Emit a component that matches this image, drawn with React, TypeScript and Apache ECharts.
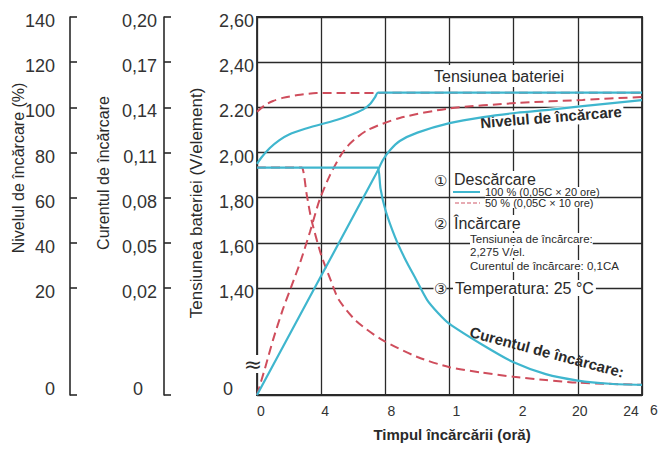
import React, { useEffect, useRef } from "react";
import * as echarts from "echarts";

// ---------- data (real units) ----------
const hourTicks = [0, 4, 8, 12, 16, 20, 24];
const hourLabels = ["0", "4", "8", "1", "2", "20", "24"];
const voltLabels = ["0", "1,40", "1,60", "1,80", "2,00", "2.20", "2,40", "2,60"];
const currentLabels = ["0", "0,02", "0,05", "0,08", "0,11", "0,14", "0,17", "0,20"];
const levelLabels = ["0", "20", "40", "60", "80", "100", "120", "140"];

// [hours, V/element]
const voltage100 = [[0, 1.95], [0.3, 1.98], [0.8, 2.02], [1.4, 2.055], [2.0, 2.08], [3.0, 2.105], [4.0, 2.125], [5.0, 2.145], [5.8, 2.165], [6.6, 2.19], [7.05, 2.215], [7.36, 2.245], [7.54, 2.265], [8.2, 2.265], [24, 2.265]];
const voltage50 = [[0, 2.18], [0.5, 2.21], [1.0, 2.228], [1.6, 2.242], [2.7, 2.256], [3.7, 2.263], [24, 2.265]];
// [hours, CA]
const current100 = [[0, 0.1], [7.3, 0.1], [7.54, 0.1], [7.7, 0.086], [8.0, 0.072], [8.6, 0.054], [9.2, 0.04], [9.9, 0.026], [10.6, 0.0178], [11.3, 0.0153], [12, 0.0133], [14.1, 0.0093], [16, 0.0061], [18, 0.0039], [20, 0.0027], [22, 0.0021], [24, 0.0019]];
const current50 = [[0, 0.1], [2.6, 0.1], [2.8, 0.1], [3.1, 0.082], [3.4, 0.065], [4.0, 0.042], [4.6, 0.025], [5.1, 0.0178], [6.2, 0.0138], [7.8, 0.0103], [10, 0.0071], [12, 0.0052], [14, 0.0042], [16, 0.0034], [18, 0.0028], [20, 0.0023], [24, 0.0019]];
// [hours, %]
const level100 = [[0, 0], [7.3, 68.9], [7.54, 72.2], [7.85, 76.7], [8.3, 81.1], [8.9, 85.1], [10, 88.8], [12, 93.0], [14.1, 95.7], [16.2, 97.6], [18.3, 99.0], [20.3, 100.5], [24, 103.2]];
const level50 = [[0, 0], [0.5, 5.0], [1.0, 10.3], [1.6, 15.9], [2.2, 21.8], [2.7, 31.5], [3.3, 44.8], [3.9, 59.0], [4.55, 70.0], [5.2, 78.5], [5.8, 84.0], [6.86, 89.8], [8.9, 95.3], [12, 99.5], [16.2, 101.9], [20.3, 103.3], [24, 104.6]];

// ---------- broken-axis scale ----------
const G = 107 / 45.17; // height of bottom band in grid units
const U_MAX = G + 6;
const tickU = [0, G, G + 1, G + 2, G + 3, G + 4, G + 5, G + 6];
const toU = (v: number, first: number, step: number) =>
  v <= first ? (v / first) * G : G + (v - first) / step;
const VOLT = [1.4, 0.2];
const CUR = [0.02, 0.03];
const LVL = [20, 20];
const conv = (pts: number[][], s: number[]) => pts.map(([h, v]) => [h, toU(v, s[0], s[1])]);

const FONT = "'Liberation Sans', Arial, Helvetica, sans-serif";
const INK = "#2a2a2a";
const BLUE = "#3fb6ce";
const RED = "#cf4d5c";

const xShift = [4, 4, 6, 7, 9, 2, -11];

function yAxisCfg(labels: string[], offset: number, margin: number, showLine: boolean, zeroPad: number, split: boolean) {
  return {
    type: "value",
    min: 0,
    max: U_MAX,
    position: "left",
    offset,
    axisLine: { show: showLine, lineStyle: { color: INK, width: 1.6 } },
    axisTick: { show: showLine, inside: true, length: 7, customValues: tickU, lineStyle: { color: INK, width: 1.6 } },
    axisLabel: {
      customValues: tickU,
      margin,
      formatter: (v: number) => {
        const i = tickU.findIndex((t) => Math.abs(t - v) < 1e-6);
        if (i < 0) return "";
        return i === 0 ? `{z|${labels[0]}}` : `{n|${labels[i]}}`;
      },
      rich: {
        n: { fontSize: 18, fontFamily: FONT, color: "#333", padding: [8, 0, 0, 0] },
        z: { fontSize: 18, fontFamily: FONT, color: "#333", padding: [0, zeroPad, 12, 0] },
      },
    },
    splitLine: { show: split, lineStyle: { color: INK, width: 1.3 } },
  };
}

function txt(text: string, x: number, y: number, size: number, extra: any = {}, styleExtra: any = {}) {
  return {
    type: "text",
    x,
    y,
    z: 1,
    ...extra,
    style: {
      text,
      fontSize: size,
      fontFamily: FONT,
      fill: INK,
      align: "left",
      verticalAlign: "middle",
      ...styleExtra,
    },
  };
}

const lineSeries = (data: number[][], yIdx: number, color: string, dashed: boolean) => ({
  type: "line",
  yAxisIndex: yIdx,
  data,
  showSymbol: false,
  symbol: "none",
  smooth: 0.25,
  silent: true,
  z: 3,
  lineStyle: { color, width: dashed ? 2 : 2.2, type: dashed ? [9, 5] : "solid" },
});

export default function App() {
  const ref = useRef<HTMLDivElement>(null);
  useEffect(() => {
    const chart = echarts.init(ref.current!, undefined, { renderer: "svg" });
    const rich: any = {};
    xShift.forEach((s, i) => {
      rich["s" + i] = {
        fontSize: 14,
        fontFamily: FONT,
        color: "#333",
        padding: s >= 0 ? [0, 0, 0, 2 * s] : [0, -2 * s, 0, 0],
      };
    });
    const option: any = {
      animation: false,
      backgroundColor: "#fff",
      grid: { left: 257, right: 20, top: 17, bottom: 58, show: true, borderColor: INK, borderWidth: 1.8, backgroundColor: "transparent" },
      xAxis: {
        type: "value",
        min: 0,
        max: 24,
        interval: 4,
        axisLine: { show: true, lineStyle: { color: INK, width: 1.6 } },
        axisTick: { show: false },
        splitLine: { show: true, lineStyle: { color: INK, width: 1.3 } },
        axisLabel: {
          margin: 9,
          formatter: (v: number) => {
            const i = hourTicks.indexOf(v);
            return i < 0 ? "" : `{s${i}|${hourLabels[i]}}`;
          },
          rich,
        },
      },
      yAxis: [
        yAxisCfg(voltLabels, 0, 3, false, 21, true),
        yAxisCfg(currentLabels, 93, 7, true, 14, false),
        yAxisCfg(levelLabels, 187, 15, true, 0, false),
      ],
      series: [
        lineSeries(conv(voltage50, VOLT), 0, RED, true),
        lineSeries(conv(current50, CUR), 1, RED, true),
        lineSeries(conv(level50, LVL), 2, RED, true),
        lineSeries(conv(voltage100, VOLT), 0, BLUE, false),
        lineSeries(conv(current100, CUR), 1, BLUE, false),
        lineSeries(conv(level100, LVL), 2, BLUE, false),
      ],
      graphic: {
        elements: [
          // axis names
          txt("Nivelul de încărcare (%)", 18, 168, 16, { rotation: Math.PI / 2 }, { align: "center" }),
          txt("Curentul de încărcare", 103, 173, 16, { rotation: Math.PI / 2 }, { align: "center" }),
          txt("Tensiunea bateriei (V/element)", 196, 203, 17, { rotation: Math.PI / 2 }, { align: "center" }),
          txt("Timpul încărcării (oră)", 452, 434, 15, {}, { align: "center", fontWeight: "bold" }),
          txt("6", 654, 410, 14, {}, { align: "center", fill: "#333" }),
          // axis break
          txt("≈", 253, 364, 22, { z: 2 }, { align: "center", fontFamily: "'DejaVu Sans', sans-serif", backgroundColor: "#fff", lineHeight: 18 }),
          // curve labels
          txt("Tensiunea bateriei", 499, 76, 16, {}, { align: "center", backgroundColor: "#fff", padding: [3, 2] }),
          txt("Nivelul de încărcare", 551, 117, 15, { rotation: 0.08 }, { align: "center", fontWeight: "bold", backgroundColor: "#fff", padding: [2, 2] }),
          txt("Curentul de încărcare:", 547, 352, 15, { rotation: -0.26 }, { align: "center", fontWeight: "bold" }),
          // legend block
          txt("①", 440, 180, 15, {}, { align: "center", backgroundColor: "#fff" }),
          txt("Descărcare", 452, 179, 16, {}, { backgroundColor: "#fff", padding: [0, 2] }),
          { type: "line", z: 1, shape: { x1: 453, y1: 192, x2: 480, y2: 192 }, style: { stroke: BLUE, lineWidth: 2 } },
          txt("100 % (0,05C × 20 ore)", 485, 192, 11, {}, { backgroundColor: "#fff", lineHeight: 10 }),
          { type: "line", z: 1, shape: { x1: 455, y1: 203, x2: 480, y2: 203 }, style: { stroke: "#e0909a", lineWidth: 1.3, lineDash: [4, 2] } },
          txt("50 % (0,05C × 10 ore)", 485, 203, 11, {}, { backgroundColor: "#fff", lineHeight: 10 }),
          txt("②", 440, 223, 15, {}, { align: "center", backgroundColor: "#fff" }),
          txt("Încărcare", 452, 223, 16, {}, { backgroundColor: "#fff", padding: [0, 2] }),
          txt("Tensiunea de încărcare:", 470, 239, 11.5, {}, { backgroundColor: "#fff", lineHeight: 12 }),
          txt("2,275 V/el.", 470, 252, 11.5, {}, { backgroundColor: "#fff", lineHeight: 12 }),
          txt("Curentul de încărcare: 0,1CA", 470, 266, 11.5, {}, { backgroundColor: "#fff", lineHeight: 12 }),
          txt("③", 440, 288, 15, {}, { align: "center", backgroundColor: "#fff" }),
          txt("Temperatura: 25 °C", 453, 288, 16, {}, { backgroundColor: "#fff", padding: [0, 2] }),
        ],
      },
    };
    chart.setOption(option);
    return () => chart.dispose();
  }, []);
  return (
    <div
      ref={ref}
      style={{ position: "fixed", left: 0, top: 0, width: 662, height: 453, background: "#fff" }}
    />
  );
}
